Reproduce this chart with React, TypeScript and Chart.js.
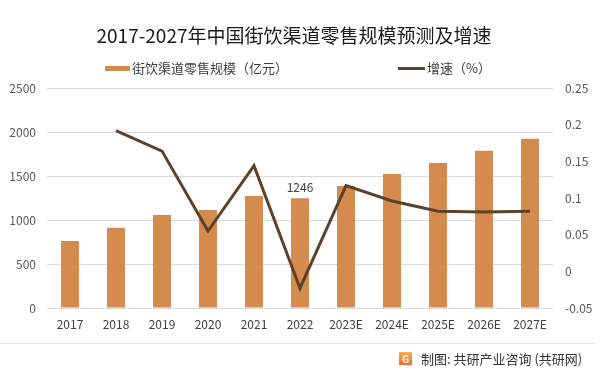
import { useEffect, useRef } from 'react';
import { Chart, registerables } from 'chart.js';

Chart.register(...registerables);

const categories = ['2017', '2018', '2019', '2020', '2021', '2022', '2023E', '2024E', '2025E', '2026E', '2027E'];
const retailScale = [760, 912, 1056, 1113, 1273, 1246, 1387, 1523, 1649, 1786, 1922];
const growthRate: (number | null)[] = [null, 0.192, 0.164, 0.055, 0.144, -0.023, 0.117, 0.096, 0.082, 0.081, 0.082];
const seriesNames = ['街饮渠道零售规模（亿元）', '增速（%）'];
const titleText = '2017-2027年中国街饮渠道零售规模预测及增速';
const sourceText = '制图: 共研产业咨询 (共研网)';
const labeledIndex = [5];

const FONT = '"Noto Sans CJK SC", "Noto Sans", sans-serif';
const BAR_COLOR = '#d58b4e';
const LINE_COLOR = '#5e4129';

const decorPlugin = {
  id: 'decor',
  afterDraw(chart: any) {
    const ctx = chart.ctx as CanvasRenderingContext2D;
    ctx.save();
    // title
    ctx.fillStyle = '#1a1a1a';
    ctx.font = `19px ${FONT}`;
    ctx.textAlign = 'center';
    ctx.textBaseline = 'middle';
    ctx.fillText(titleText, 294, 36);

    // legend
    ctx.font = `13px ${FONT}`;
    ctx.textAlign = 'left';
    ctx.fillStyle = BAR_COLOR;
    ctx.fillRect(105, 66, 25, 5);
    ctx.fillStyle = '#404040';
    ctx.fillText(seriesNames[0], 132, 68.5);
    ctx.strokeStyle = LINE_COLOR;
    ctx.lineWidth = 3;
    ctx.beginPath();
    ctx.moveTo(398, 68.5);
    ctx.lineTo(425, 68.5);
    ctx.stroke();
    ctx.fillStyle = '#404040';
    ctx.fillText(seriesNames[1], 427, 68.5);

    // data label
    const meta = chart.getDatasetMeta(0);
    ctx.font = `12px ${FONT}`;
    ctx.textAlign = 'center';
    ctx.textBaseline = 'bottom';
    ctx.fillStyle = '#404040';
    labeledIndex.forEach((i) => {
      const el = meta.data[i];
      ctx.fillText(String(retailScale[i]), el.x, el.y - 5);
    });

    // footer separator
    ctx.strokeStyle = '#e6e6e6';
    ctx.lineWidth = 1;
    ctx.beginPath();
    ctx.moveTo(0, 343.5);
    ctx.lineTo(595, 343.5);
    ctx.stroke();

    // logo
    const grad = ctx.createLinearGradient(0, 352, 0, 365);
    grad.addColorStop(0, '#f6b04a');
    grad.addColorStop(1, '#ef6b2c');
    ctx.fillStyle = grad;
    ctx.fillRect(399, 352, 13, 13);
    ctx.fillStyle = '#ffffff';
    ctx.font = `bold 10px ${FONT}`;
    ctx.textAlign = 'center';
    ctx.textBaseline = 'middle';
    ctx.fillText('G', 405.5, 359);

    // footer text
    ctx.fillStyle = '#333333';
    ctx.font = `13px ${FONT}`;
    ctx.textAlign = 'left';
    ctx.fillText(sourceText, 421, 359);
    ctx.restore();
  },
};

export default function App() {
  const canvasRef = useRef<HTMLCanvasElement | null>(null);

  useEffect(() => {
    document.body.style.margin = '0';
    const canvas = canvasRef.current;
    if (!canvas) return;
    const chart = new Chart(canvas, {
      type: 'bar',
      data: {
        labels: categories,
        datasets: [
          {
            type: 'bar',
            label: seriesNames[0],
            data: retailScale,
            backgroundColor: BAR_COLOR,
            yAxisID: 'y',
            barPercentage: 0.39,
            categoryPercentage: 1,
            order: 2,
          },
          {
            type: 'line',
            label: seriesNames[1],
            data: growthRate,
            borderColor: LINE_COLOR,
            backgroundColor: LINE_COLOR,
            borderWidth: 3,
            pointRadius: 0,
            tension: 0,
            yAxisID: 'y1',
            order: 1,
          },
        ],
      } as any,
      options: {
        responsive: false,
        animation: false,
        layout: { padding: { top: 88, left: 0, right: 0, bottom: 0 } },
        plugins: {
          legend: { display: false },
          title: { display: false },
          tooltip: { enabled: false },
        },
        scales: {
          x: {
            grid: { display: false, drawTicks: false },
            border: { display: false },
            ticks: { color: '#404040', font: { family: FONT, size: 12 }, padding: 9, maxRotation: 0 },
            afterFit: (s: any) => { s.height = 67; },
          },
          y: {
            position: 'left',
            min: 0,
            max: 2500,
            ticks: {
              stepSize: 500,
              color: '#595959',
              font: { family: FONT, size: 12 },
              padding: 11,
              callback: (v: any) => String(v),
            },
            grid: { color: '#d9d9d9', drawTicks: false },
            border: { display: false },
            afterFit: (s: any) => { s.width = 47; },
          },
          y1: {
            position: 'right',
            min: -0.05,
            max: 0.25,
            ticks: {
              stepSize: 0.05,
              color: '#595959',
              font: { family: FONT, size: 12 },
              padding: 12,
              callback: (v: any) => String(Number(Number(v).toFixed(2))),
            },
            grid: { display: false, drawTicks: false },
            border: { display: false },
            afterFit: (s: any) => { s.width = 47; },
          },
        },
      } as any,
      plugins: [decorPlugin],
    });
    return () => chart.destroy();
  }, []);

  return (
    <div style={{ width: 600, height: 375, position: 'relative', background: '#ffffff' }}>
      <canvas ref={canvasRef} width={600} height={375} />
    </div>
  );
}
